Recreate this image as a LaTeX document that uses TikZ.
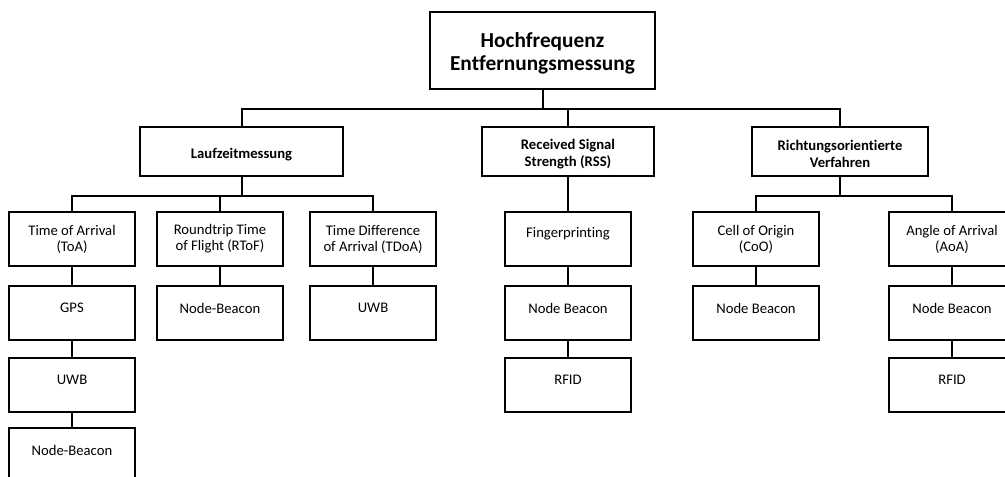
\documentclass[tikz,border=0pt]{standalone}
\usepackage{fontspec}
\setmainfont[Ligatures=NoCommon]{Carlito}
\begin{document}
\begin{tikzpicture}[x=0.75pt,y=-0.75pt,
  box/.style={draw=black, line width=1.5pt, fill=white, inner sep=0pt},
  rootbox/.style={box, minimum width=168.75pt, minimum height=57.75pt},
  groupbox/.style={box, minimum height=36.75pt},
  leafbox/.style={box, minimum width=94.5pt, minimum height=40.5pt},
  roottxt/.style={align=center, font=\fontsize{16}{17.5}\selectfont\bfseries, yshift=-2pt},
  grouptxt/.style={align=center, font=\fontsize{11}{13}\selectfont\bfseries, yshift=-2pt},
  leaftxt/.style={align=center, font=\fontsize{11}{12}\selectfont},
  oneline/.style={leaftxt, yshift=3.75pt},
  conn/.style={draw=black, line width=1.5pt}]
\useasboundingbox (0,0) rectangle (1005,476);
\clip (0,0) rectangle (1005,476);

% root
\node[rootbox, label={[roottxt]center:Hochfrequenz\\Entfernungsmessung}] (hf) at (542.5,50.5) {};

% method groups
\node[groupbox, minimum width=152.25pt, label={[grouptxt]center:Laufzeitmessung}] (lz) at (241.5,151.5) {};
\node[groupbox, minimum width=129pt, label={[grouptxt]center:Received Signal\\Strength (RSS)}] (rss) at (568,151.5) {};
\node[groupbox, minimum width=132pt, label={[grouptxt]center:Richtungsorientierte\\Verfahren}] (rv) at (840,151.5) {};

% methods
\node[leafbox, label={[leaftxt]center:Time of Arrival\\(ToA)}] (toa) at (72,239) {};
\node[leafbox, label={[leaftxt]center:Roundtrip Time\\of Flight (RToF)}] (rtof) at (220,239) {};
\node[leafbox, label={[leaftxt]center:Time Difference\\of Arrival (TDoA)}] (tdoa) at (373,239) {};
\node[leafbox, label={[oneline]center:Fingerprinting}] (fp) at (568,239) {};
\node[leafbox, label={[leaftxt]center:Cell of Origin\\(CoO)}] (coo) at (756,239) {};
\node[leafbox, label={[leaftxt]center:Angle of Arrival\\(AoA)}] (aoa) at (952,239) {};

% technologies
\node[leafbox, label={[oneline]center:GPS}] (toa1) at (72,313) {};
\node[leafbox, label={[oneline]center:UWB}] (toa2) at (72,385) {};
\node[leafbox, label={[oneline]center:Node-Beacon}] (toa3) at (72,455) {};
\node[leafbox, label={[oneline]center:Node-Beacon}] (rtof1) at (220,313) {};
\node[leafbox, label={[oneline]center:UWB}] (tdoa1) at (373,313) {};
\node[leafbox, label={[oneline]center:Node Beacon}] (fp1) at (568,313) {};
\node[leafbox, label={[oneline]center:RFID}] (fp2) at (568,385) {};
\node[leafbox, label={[oneline]center:Node Beacon}] (coo1) at (756,313) {};
\node[leafbox, label={[oneline]center:Node Beacon}] (aoa1) at (952,313) {};
\node[leafbox, label={[oneline]center:RFID}] (aoa2) at (952,385) {};

% tree connectors
\draw[conn] (hf.south) -- ++(0,19) -| (lz.north);
\draw[conn] (hf.south) -- ++(0,19) -| (rss.north);
\draw[conn] (hf.south) -- ++(0,19) -| (rv.north);
\draw[conn] (lz.south) -- ++(0,19) -| (toa.north);
\draw[conn] (lz.south) -- ++(0,19) -| (rtof.north);
\draw[conn] (lz.south) -- ++(0,19) -| (tdoa.north);
\draw[conn] (rss.south) -- (fp.north);
\draw[conn] (rv.south) -- ++(0,19) -| (coo.north);
\draw[conn] (rv.south) -- ++(0,19) -| (aoa.north);

\draw[conn] (toa.south) -- (toa1.north);
\draw[conn] (toa1.south) -- (toa2.north);
\draw[conn] (toa2.south) -- (toa3.north);
\draw[conn] (rtof.south) -- (rtof1.north);
\draw[conn] (tdoa.south) -- (tdoa1.north);
\draw[conn] (fp.south) -- (fp1.north);
\draw[conn] (fp1.south) -- (fp2.north);
\draw[conn] (coo.south) -- (coo1.north);
\draw[conn] (aoa.south) -- (aoa1.north);
\draw[conn] (aoa1.south) -- (aoa2.north);
\end{tikzpicture}
\end{document}
